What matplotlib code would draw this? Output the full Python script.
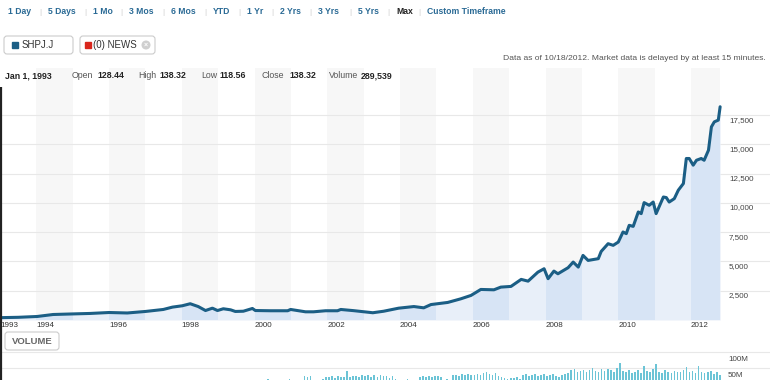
import numpy as np
import pandas as pd
import matplotlib
matplotlib.use('Agg')
import matplotlib.pyplot as plt
from matplotlib.patches import FancyBboxPatch, Rectangle, Circle
from matplotlib.transforms import blended_transform_factory, ScaledTranslation

plt.rcParams['font.family'] = ['Liberation Sans', 'DejaVu Sans']

# close price (decimal year, price)
price_dates = [1993.00, 1993.50, 1994.02, 1994.46, 1995.01, 1995.48, 1996.00, 1996.50,
               1997.00, 1997.49, 1997.74, 1998.01, 1998.23, 1998.45, 1998.65, 1998.84,
               1998.98, 1999.14, 1999.34, 1999.47, 1999.69, 1999.94, 2000.02, 2000.44,
               2000.91, 2000.99, 2001.40, 2001.62, 2001.95, 2002.28, 2002.37, 2002.72,
               2003.25, 2003.55, 2003.96, 2004.38, 2004.65, 2004.85, 2005.31, 2005.67,
               2005.95, 2006.22, 2006.58, 2006.77, 2007.05, 2007.33, 2007.52, 2007.79,
               2007.96, 2008.07, 2008.23, 2008.34, 2008.62, 2008.76, 2008.90, 2009.03,
               2009.17, 2009.45, 2009.53, 2009.72, 2009.86, 2010.00, 2010.13, 2010.22,
               2010.30, 2010.41, 2010.55, 2010.63, 2010.71, 2010.85, 2010.96, 2011.04,
               2011.24, 2011.32, 2011.40, 2011.54, 2011.65, 2011.79, 2011.87, 2011.95,
               2012.06, 2012.15, 2012.28, 2012.36, 2012.48, 2012.56, 2012.64, 2012.75,
               2012.80]
price_vals = [200, 230, 300, 470, 520, 560, 640, 600,
              730, 900, 1100, 1215, 1390, 1150, 810, 1010,
              810, 960, 870, 730, 750, 985, 810, 790,
              790, 900, 700, 700, 790, 790, 900, 800,
              620, 750, 1010, 1150, 1040, 1320, 1500, 1810,
              2100, 2610, 2580, 2810, 2870, 3470, 3320, 4090,
              4380, 3530, 4180, 3950, 4470, 4950, 4520, 5520,
              5090, 5240, 5860, 6520, 6380, 6660, 7520, 7380,
              8090, 8000, 9230, 9090, 10030, 9800, 10080, 9090,
              10510, 10460, 10080, 10370, 11090, 11660, 13800, 13800,
              13230, 13650, 13800, 13650, 14510, 16500, 16930, 17080,
              18220]

# monthly volume in millions, Apr 2000 - Oct 2012
vol_start = '2000-04-01'
vol_vals = [6, 17, 5, 4, 7, 5, 8, 6, 17,
            9, 12, 10, 15, 27, 22, 26, 14, 12, 10, 18, 24,
            22, 25, 20, 26, 23, 24, 41, 22, 27, 25, 24, 28,
            26, 29, 24, 28, 22, 30, 27, 25, 21, 26, 18, 12,
            14, 9, 16, 12, 8, 15, 22, 26, 24, 27, 23, 25,
            27, 24, 14, 18, 12, 28, 30, 26, 31, 29, 33, 28,
            30, 33, 28, 35, 38, 31, 29, 34, 27, 22, 20, 18,
            19, 21, 24, 18, 28, 32, 25, 30, 33, 27, 29, 31,
            26, 30, 33, 27, 24, 29, 31, 36, 45, 48, 40, 42,
            44, 38, 46, 50, 41, 39, 47, 43, 49, 45, 40, 52,
            68, 42, 38, 45, 36, 40, 44, 35, 58, 41, 39, 47,
            63, 40, 36, 44, 38, 35, 42, 37, 40, 45, 53, 39,
            41, 36, 58, 40, 34, 38, 42, 33, 37, 30]

price_ticks = [2500, 5000, 7500, 10000, 12500, 15000, 17500]
vol_ticks = [50, 100]
year_ticks = [1993, 1994, 1996, 1998, 2000, 2002, 2004, 2006, 2008, 2010, 2012]

ranges = ['1 Day', '5 Days', '1 Mo', '3 Mos', '6 Mos', 'YTD', '1 Yr', '2 Yrs',
          '3 Yrs', '5 Yrs', 'Max', 'Custom Timeframe']
range_x = [8, 48, 93, 129, 171, 213, 247, 280, 318, 358, 396, 427]

info_items = [('Jan 1, 1993', 5, True), ('Open', 72, False), ('128.44', 97, True),
              ('High', 138, False), ('138.32', 159, True), ('Low', 201, False),
              ('118.56', 219, True), ('Close', 262, False), ('138.32', 289, True),
              ('Volume', 329, False), ('289,539', 361, True)]

W, H = 770, 380
PX_YEAR = 36.37
x_lo, x_hi = 1993, 1993 + W / PX_YEAR
line_col = '#1b5e85'

fig = plt.figure(figsize=(W / 100, H / 100), dpi=100)

# ---- price panel
ax = fig.add_axes([0, 1 - 320 / H, 1, (320 - 68) / H])
ax.set_xlim(x_lo, x_hi)
ax.set_ylim(0, (319.5 - 68) / 29.2 * 2500)
end = price_dates[-1]
for yr in range(1994, 2013, 2):
    ax.axvspan(yr, min(yr + 1, end), color='#f7f7f7', lw=0, zorder=0)

ax.set_yticks(price_ticks)
ax.grid(axis='y', color='#e8e8e8', lw=0.8, zorder=0.5)
ax.set_axisbelow(True)

fill = ax.fill_between(price_dates, 0, price_vals, color='#e8eff9', lw=0, zorder=1)
clip = fill.get_paths()[0]
for yr in range(1994, 2013, 2):
    sp = ax.axvspan(yr, min(yr + 1, end), color='#d7e4f5', lw=0, zorder=1.2)
    sp.set_clip_path(clip, ax.transData)

ax.plot(price_dates, price_vals, color=line_col, lw=2.2, solid_joinstyle='round',
        solid_capstyle='round', zorder=3)

ax.set_xticks(year_ticks)
ax.set_xticklabels([str(y) for y in year_ticks], ha='left')
ax.tick_params(axis='x', length=0, pad=1.5, labelsize=5.8, labelcolor='#333333')
ax.set_yticklabels([])
ax.tick_params(axis='y', length=0)
for s in ax.spines.values():
    s.set_visible(False)

lab_tr = blended_transform_factory(ax.transAxes, ax.transData)
for v in price_ticks:
    ax.text(729 / W, v, f'{v:,}', transform=lab_tr + ScaledTranslation(0, -0.015, fig.dpi_scale_trans),
            ha='left', va='top', fontsize=5.8, color='#444444')

# ---- volume panel
vax = fig.add_axes([0, 0, 1, 35 / H])
vax.set_xlim(x_lo, x_hi)
vax.set_ylim((384.3 - 380) / 16 * 50, (384.3 - 345) / 16 * 50)
vd = pd.date_range(vol_start, periods=len(vol_vals), freq='MS')
vx = vd.year + (vd.month - 1) / 12 + 0.5 / 12
vax.bar(vx, vol_vals, width=0.045, color='#6cc4d6', lw=0, zorder=2)
vax.set_yticks(vol_ticks)
vax.grid(axis='y', color='#e8e8e8', lw=0.8, zorder=0.5)
vax.set_axisbelow(True)
vax.set_xticks([])
vax.set_yticklabels([])
vax.tick_params(axis='y', length=0)
for s in vax.spines.values():
    s.set_visible(False)
vtr = blended_transform_factory(vax.transAxes, vax.transData)
for v in vol_ticks:
    vax.text(728 / W, v, f'{v}M', transform=vtr + ScaledTranslation(0, -0.04, fig.dpi_scale_trans),
             ha='left', va='top', fontsize=5.8, color='#444444')

# ---- page chrome, in pixel coords
ov = fig.add_axes([0, 0, 1, 1], zorder=10)
ov.set_xlim(0, W)
ov.set_ylim(H, 0)
ov.axis('off')
ov.patch.set_visible(False)

for i, (name, x) in enumerate(zip(ranges, range_x)):
    bold = name == 'Max'
    ov.text(x, 12, name, fontsize=6.2, va='center', ha='left',
            color='#222222' if bold else '#2a6a95', fontweight='bold')
    if i < len(ranges) - 1:
        ov.text(range_x[i + 1] - 8, 12, '|', fontsize=6,
                va='center', ha='center', color='#cccccc')

ov.add_patch(FancyBboxPatch((4, 36), 69, 18, boxstyle='round,pad=0,rounding_size=3',
                            fc='white', ec='#cccccc', lw=0.8))
ov.add_patch(Rectangle((12, 42), 6, 6, color=line_col))
ov.text(22, 45.5, 'SHPJ.J', fontsize=7, va='center', color='#333333')

ov.add_patch(FancyBboxPatch((80, 36), 75, 18, boxstyle='round,pad=0,rounding_size=3',
                            fc='white', ec='#cccccc', lw=0.8))
ov.add_patch(Rectangle((85, 42), 6, 6, color='#d9261c'))
ov.text(93, 45.5, '(0) NEWS', fontsize=7, va='center', color='#333333')
ov.add_patch(Circle((146, 45), 3.8, color='#cfcfcf'))
ov.text(146, 45.3, '×', fontsize=5, ha='center', va='center', color='white', fontweight='bold')

ov.text(766, 59, 'Data as of 10/18/2012. Market data is delayed by at least 15 minutes.',
        fontsize=6.1, ha='right', va='center', color='#555555')

for txt, x, bold in info_items:
    ov.text(x, 76, txt, fontsize=6.3, va='center', ha='left',
            color='#222222' if bold else '#555555',
            fontweight='bold' if bold else 'normal')

ov.add_patch(FancyBboxPatch((5, 332), 54, 18, boxstyle='round,pad=0,rounding_size=3',
                            fc='white', ec='#cccccc', lw=0.8))
ov.text(32, 341.5, 'VOLUME', fontsize=6.8, ha='center', va='center', color='#666666',
        fontweight='bold')

ov.plot([1, 1], [87, H], color='#222222', lw=1.6, solid_capstyle='butt')

fig.savefig('out.png', dpi=100, facecolor='white')
